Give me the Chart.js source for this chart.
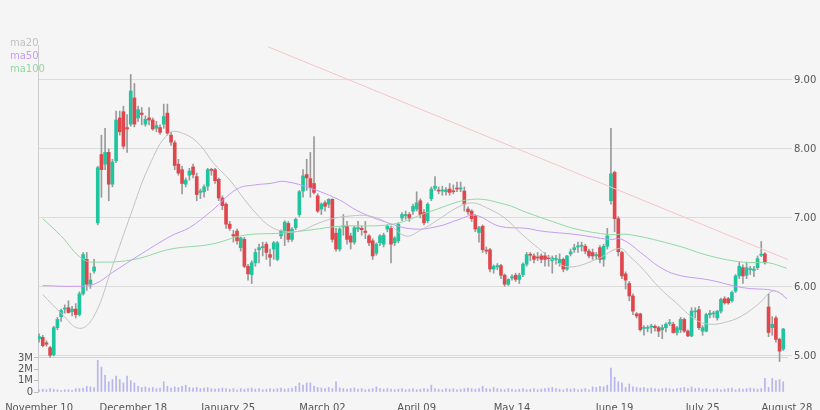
<!DOCTYPE html>
<html><head><meta charset="utf-8">
<script src="https://cdn.jsdelivr.net/npm/chart.js@4/dist/chart.umd.min.js"></script>
<style>html,body{margin:0;padding:0;background:#f5f5f5}#w{width:820px;height:410px}</style>
</head><body><div id="w"><canvas id="c"></canvas></div>
<script>
const opens=[5.25,5.27,5.19,5.12,5.02,5.41,5.57,5.68,5.70,5.64,5.68,5.60,5.90,6.40,6.04,6.23,6.93,7.92,7.78,7.95,7.49,7.83,8.45,8.54,8.31,8.36,8.74,8.45,8.52,8.36,8.45,8.42,8.30,8.31,8.36,8.52,8.20,8.09,7.78,7.70,7.49,7.62,7.74,7.60,7.37,7.38,7.46,7.70,7.70,7.56,7.29,7.20,6.91,6.76,6.81,6.57,6.69,6.30,6.18,6.35,6.54,6.57,6.62,6.47,6.55,6.40,6.74,6.79,6.92,6.69,6.86,7.05,7.39,7.63,7.57,7.50,7.32,7.13,7.22,7.20,7.27,6.78,6.55,6.87,6.88,6.74,6.65,6.84,6.85,6.81,6.74,6.67,6.49,6.64,6.62,6.84,6.85,6.64,6.67,7.00,7.03,7.05,7.10,7.13,7.25,7.08,6.96,7.28,7.43,7.40,7.39,7.38,7.42,7.39,7.43,7.42,7.39,7.13,7.10,7.03,6.79,6.88,6.53,6.54,6.26,6.29,6.31,6.17,6.04,6.13,6.17,6.11,6.18,6.33,6.47,6.45,6.43,6.45,6.45,6.42,6.38,6.40,6.35,6.40,6.26,6.48,6.54,6.58,6.59,6.59,6.52,6.50,6.45,6.57,6.40,6.59,7.25,7.66,6.99,6.50,6.19,6.05,5.87,5.61,5.61,5.40,5.40,5.42,5.43,5.41,5.38,5.41,5.47,5.46,5.34,5.38,5.53,5.36,5.29,5.64,5.67,5.36,5.36,5.60,5.61,5.55,5.65,5.83,5.83,5.80,5.94,6.16,6.28,6.17,6.25,6.24,6.28,6.46,6.48,5.71,5.41,5.55,5.24,5.10];
const highs=[5.32,5.30,5.22,5.14,5.43,5.56,5.68,5.74,5.80,5.72,5.76,5.93,6.50,6.50,6.20,6.40,7.75,8.20,8.30,8.00,7.85,8.55,8.55,8.62,8.50,9.08,8.95,8.62,8.60,8.48,8.60,8.45,8.40,8.35,8.65,8.65,8.24,8.12,7.85,7.75,7.58,7.72,7.78,7.65,7.42,7.48,7.72,7.72,7.72,7.58,7.32,7.22,6.95,6.82,6.84,6.72,6.72,6.33,6.38,6.55,6.62,6.65,6.65,6.55,6.66,6.66,6.83,6.96,6.95,6.86,7.00,7.40,7.70,7.85,7.95,8.18,7.35,7.22,7.25,7.28,7.28,6.85,6.86,7.05,6.95,6.78,6.88,6.95,6.88,6.95,6.76,6.70,6.64,6.76,6.78,6.90,6.88,6.73,6.93,7.08,7.10,7.08,7.20,7.38,7.28,7.12,7.22,7.45,7.60,7.45,7.46,7.44,7.50,7.48,7.52,7.52,7.45,7.16,7.12,7.05,6.88,6.90,6.58,6.56,6.32,6.34,6.33,6.19,6.12,6.18,6.20,6.20,6.35,6.50,6.50,6.48,6.50,6.48,6.50,6.46,6.45,6.46,6.48,6.42,6.46,6.55,6.62,6.65,6.65,6.62,6.55,6.55,6.50,6.60,6.62,6.85,8.30,7.68,7.02,6.52,6.22,6.08,5.90,5.63,5.62,5.44,5.44,5.46,5.45,5.43,5.45,5.48,5.53,5.49,5.43,5.56,5.55,5.38,5.70,5.70,5.72,5.44,5.62,5.66,5.65,5.66,5.84,5.86,5.85,5.94,6.18,6.36,6.32,6.36,6.30,6.30,6.45,6.66,6.50,5.90,5.57,5.58,5.26,5.40];
const lows=[5.20,5.13,5.14,4.98,5.00,5.38,5.50,5.62,5.62,5.58,5.55,5.58,5.88,5.95,5.98,6.20,6.90,7.30,7.70,7.25,7.45,7.80,8.20,8.00,7.95,8.33,8.32,8.40,8.35,8.33,8.35,8.27,8.25,8.21,8.30,8.20,8.05,7.70,7.62,7.35,7.45,7.55,7.58,7.25,7.28,7.30,7.40,7.62,7.50,7.25,7.12,6.85,6.82,6.65,6.62,6.52,6.28,6.10,6.05,6.30,6.35,6.45,6.40,6.30,6.40,6.38,6.70,6.60,6.65,6.66,6.83,7.02,7.30,7.40,7.30,7.35,7.08,7.05,7.10,7.15,6.65,6.52,6.52,6.75,6.62,6.55,6.62,6.80,6.75,6.70,6.60,6.40,6.46,6.60,6.58,6.80,6.35,6.60,6.64,6.96,6.98,6.95,7.05,7.10,7.00,6.90,6.93,7.25,7.40,7.35,7.33,7.33,7.33,7.35,7.38,7.38,7.10,7.05,6.95,6.80,6.65,6.50,6.48,6.22,6.20,6.25,6.12,6.01,6.02,6.10,6.08,6.05,6.15,6.30,6.38,6.35,6.38,6.35,6.30,6.30,6.20,6.33,6.30,6.22,6.24,6.45,6.50,6.50,6.52,6.48,6.42,6.40,6.40,6.35,6.30,6.55,7.20,6.80,6.45,6.12,5.97,5.80,5.60,5.55,5.36,5.30,5.35,5.33,5.36,5.28,5.25,5.35,5.44,5.33,5.30,5.34,5.34,5.28,5.28,5.55,5.38,5.30,5.35,5.55,5.56,5.52,5.62,5.75,5.75,5.78,5.92,6.12,6.05,6.12,6.18,6.15,6.25,6.44,6.33,5.28,5.30,5.20,4.92,5.08];
const closes=[5.28,5.15,5.17,5.01,5.41,5.53,5.66,5.69,5.63,5.68,5.60,5.90,6.47,6.04,6.10,6.29,7.73,7.70,7.95,7.49,7.81,8.42,8.25,8.04,8.29,8.84,8.36,8.57,8.50,8.43,8.42,8.29,8.34,8.24,8.47,8.23,8.10,7.76,7.65,7.50,7.55,7.68,7.63,7.34,7.39,7.45,7.70,7.69,7.54,7.29,7.18,6.91,6.85,6.74,6.67,6.71,6.30,6.19,6.35,6.50,6.57,6.58,6.50,6.43,6.64,6.64,6.81,6.94,6.69,6.84,6.98,7.38,7.61,7.58,7.44,7.37,7.10,7.20,7.17,7.27,6.69,6.55,6.84,6.88,6.69,6.65,6.86,6.86,6.83,6.79,6.64,6.45,6.62,6.74,6.75,6.88,6.62,6.71,6.91,7.05,7.05,7.00,7.17,7.22,7.05,6.93,7.20,7.42,7.46,7.39,7.40,7.41,7.37,7.38,7.42,7.43,7.20,7.09,6.99,6.84,6.86,6.54,6.52,6.26,6.30,6.31,6.17,6.04,6.11,6.15,6.11,6.17,6.33,6.47,6.46,6.40,6.42,6.40,6.40,6.41,6.42,6.41,6.40,6.26,6.45,6.51,6.57,6.59,6.60,6.52,6.45,6.45,6.47,6.40,6.59,6.74,7.64,6.99,6.51,6.16,6.10,5.87,5.65,5.58,5.38,5.41,5.41,5.43,5.41,5.36,5.41,5.46,5.48,5.34,5.41,5.53,5.36,5.29,5.65,5.65,5.41,5.41,5.60,5.62,5.62,5.65,5.82,5.77,5.77,5.92,6.16,6.30,6.16,6.28,6.26,6.26,6.41,6.47,6.35,5.34,5.46,5.24,5.07,5.39];
const volumes=[0.2,0.25,0.2,0.3,0.25,0.2,0.15,0.2,0.2,0.15,0.3,0.3,0.35,0.5,0.45,0.4,2.8,2.2,1.5,0.9,1.1,1.4,1.1,0.8,1.4,1.0,0.8,0.5,0.4,0.45,0.35,0.4,0.3,0.35,0.9,0.5,0.35,0.45,0.4,0.5,0.6,0.4,0.35,0.4,0.3,0.35,0.4,0.3,0.25,0.3,0.35,0.3,0.25,0.3,0.2,0.3,0.25,0.3,0.35,0.25,0.3,0.2,0.25,0.3,0.25,0.3,0.35,0.25,0.3,0.35,0.5,0.8,0.6,0.8,0.8,0.5,0.4,0.35,0.3,0.4,0.3,0.9,0.35,0.3,0.25,0.3,0.35,0.25,0.3,0.2,0.25,0.3,0.45,0.3,0.25,0.3,0.25,0.2,0.25,0.3,0.2,0.25,0.3,0.2,0.25,0.3,0.25,0.6,0.3,0.25,0.2,0.3,0.25,0.3,0.2,0.25,0.3,0.35,0.3,0.25,0.3,0.5,0.3,0.25,0.4,0.3,0.25,0.2,0.3,0.25,0.2,0.25,0.3,0.2,0.25,0.3,0.2,0.25,0.3,0.35,0.4,0.3,0.25,0.2,0.3,0.25,0.3,0.2,0.25,0.3,0.2,0.45,0.4,0.5,0.45,0.6,2.1,1.3,0.9,0.8,0.4,0.7,0.45,0.4,0.35,0.4,0.3,0.35,0.3,0.25,0.3,0.35,0.3,0.25,0.3,0.35,0.4,0.3,0.45,0.3,0.35,0.25,0.3,0.2,0.25,0.3,0.2,0.25,0.3,0.35,0.2,0.3,0.25,0.3,0.35,0.3,0.25,0.3,1.2,0.4,1.2,1.0,1.1,0.9,0.3];
const ma20=[[1,5.89],[6,5.62],[11,5.40],[15,5.58],[20,6.30],[25,7.05],[30,7.75],[35.5,8.23],[40,8.21],[44,8.05],[47.5,7.80],[52,7.55],[56,7.27],[60,7.02],[63,6.88],[66.5,6.81],[71,6.81],[76,6.92],[80,6.99],[85,7.03],[90,7.03],[95,6.93],[100,6.74],[104,6.82],[109,6.98],[114,7.15],[118,7.22],[122,7.15],[127,7.0],[132,6.75],[136.5,6.55],[140,6.40],[144.7,6.29],[152,6.40],[158.4,6.56],[161,6.45],[164.7,6.26],[169,6.00],[173.8,5.77],[179,5.53],[183,5.46],[188,5.50],[192,5.59],[196.6,5.77],[200,5.94],[203,5.89]];
const ma50=[[1,6.02],[10,6.01],[15,6.04],[20,6.21],[27,6.45],[36,6.74],[41,6.86],[47,7.10],[54,7.42],[59,7.48],[63,7.50],[67,7.53],[74.6,7.42],[82,7.26],[87,7.10],[94.6,6.94],[102,6.84],[109,6.88],[114.6,6.98],[119,7.04],[125.6,6.88],[133,6.85],[137,6.81],[146.5,6.76],[155.6,6.69],[159,6.69],[164.8,6.47],[169,6.30],[173.8,6.18],[183,6.10],[192,5.99],[201,5.94],[204,5.83]];
const ma100=[[1,6.99],[6,6.74],[12,6.40],[17,6.36],[26,6.40],[36,6.55],[47,6.62],[56,6.75],[66,6.78],[73,6.82],[82,6.88],[96.4,6.91],[107,7.10],[118,7.27],[127,7.20],[133,7.08],[140,6.95],[146.5,6.84],[155.6,6.76],[161,6.76],[174,6.60],[183,6.45],[192,6.36],[199,6.35],[204,6.27]];
const trend=[[62.5,9.48],[206,6.36]];
const tickPos=[0,25.7,51.6,77.3,103,129,157,181,204];
const tickLabels=['November 10','December 18','January 25','March 02','April 09','May 14','June 19','July 25','August 28'];
const priceTicks=[5,6,7,8,9];
const volTicks=[0,1,2,3];

const G='#1fc59e',R='#e0474c';
const idx=closes.map((_,i)=>i);
const col=idx.map(i=>closes[i]>=opens[i]?G:R);
const pts=a=>a.map(p=>({x:p[0],y:p[1]}));
const font={family:'DejaVu Sans',size:10};
new Chart(document.getElementById('c'),{
 type:'bar',
 data:{datasets:[
  {label:'wick',data:idx.map(i=>({x:i,y:[lows[i],highs[i]]})),backgroundColor:'#9a9a9a',barThickness:1,grouped:false,yAxisID:'y',order:3},
  {label:'body',data:idx.map(i=>({x:i,y:[Math.min(opens[i],closes[i]),Math.max(opens[i],closes[i])]})),backgroundColor:col,barThickness:3,minBarLength:1,grouped:false,yAxisID:'y',order:2},
  {label:'vol',data:idx.map(i=>({x:i,y:volumes[i]*1e6})),backgroundColor:'#b8b4ee',barThickness:1,grouped:false,yAxisID:'yv',order:4},
  {type:'line',label:'ma20',data:pts(ma20),borderColor:'#c2c2c2',borderWidth:1,pointRadius:0,tension:0.4,yAxisID:'y',order:1},
  {type:'line',label:'ma50',data:pts(ma50),borderColor:'#c59bf3',borderWidth:1,pointRadius:0,tension:0.4,yAxisID:'y',order:1},
  {type:'line',label:'ma100',data:pts(ma100),borderColor:'#8fd9a3',borderWidth:1,pointRadius:0,tension:0.4,yAxisID:'y',order:1},
  {type:'line',label:'trend',data:pts(trend),borderColor:'#f6c4c8',borderWidth:1,pointRadius:0,yAxisID:'y',order:1}
 ]},
 options:{responsive:true,maintainAspectRatio:false,animation:false,
  layout:{padding:{top:45,left:0,right:0,bottom:0}},
  plugins:{legend:{display:false},tooltip:{enabled:false}},
  scales:{
   x:{type:'linear',offset:false,min:-0.3,max:204.3,grid:{display:false,offset:false},border:{display:false},
     afterBuildTicks:s=>{s.ticks=tickPos.map(v=>({value:v}));},
     afterFit:s=>{s.height=18;},
     ticks:{autoSkip:false,maxRotation:0,font,color:'#555',padding:2,callback:(v,i)=>tickLabels[i]}},
   y:{position:'right',min:4.478,max:9.507,
     afterBuildTicks:s=>{s.ticks=priceTicks.map(v=>({value:v}));},
     afterFit:s=>{s.width=32;},
     grid:{color:'#dcdcdc',tickLength:4},border:{display:false},
     ticks:{font,color:'#555',padding:2,callback:v=>v.toFixed(2)}},
   yv:{position:'left',min:0,max:30.6e6,
     afterBuildTicks:s=>{s.ticks=volTicks.map(v=>({value:v*1e6}));},
     afterFit:s=>{s.width=38;},
     grid:{drawOnChartArea:false,tickLength:4,color:'#bbb'},border:{display:true,color:'#ccc'},
     ticks:{font,color:'#555',padding:1,callback:v=>v===0?'0':(v/1e6)+'M'}}
  }},
 plugins:[{id:'extra',
  beforeDatasetsDraw(c){const ctx=c.ctx,a=c.chartArea,y=c.scales.yv.getPixelForValue(3e6)-1;
   ctx.save();ctx.strokeStyle='#c9d3ea';ctx.lineWidth=1;ctx.beginPath();ctx.moveTo(a.left,y+0.5);ctx.lineTo(a.right,y+0.5);ctx.stroke();ctx.restore();},
  afterDraw(c){const ctx=c.ctx;ctx.save();ctx.font='10px DejaVu Sans';ctx.textBaseline='middle';
   [['ma20','#c2c2c2'],['ma50','#c59bf3'],['ma100','#8fd9a3']].forEach((t,i)=>{ctx.fillStyle=t[1];ctx.fillText(t[0],10,43+i*13);});ctx.restore();}
 }]
});
</script></body></html>
